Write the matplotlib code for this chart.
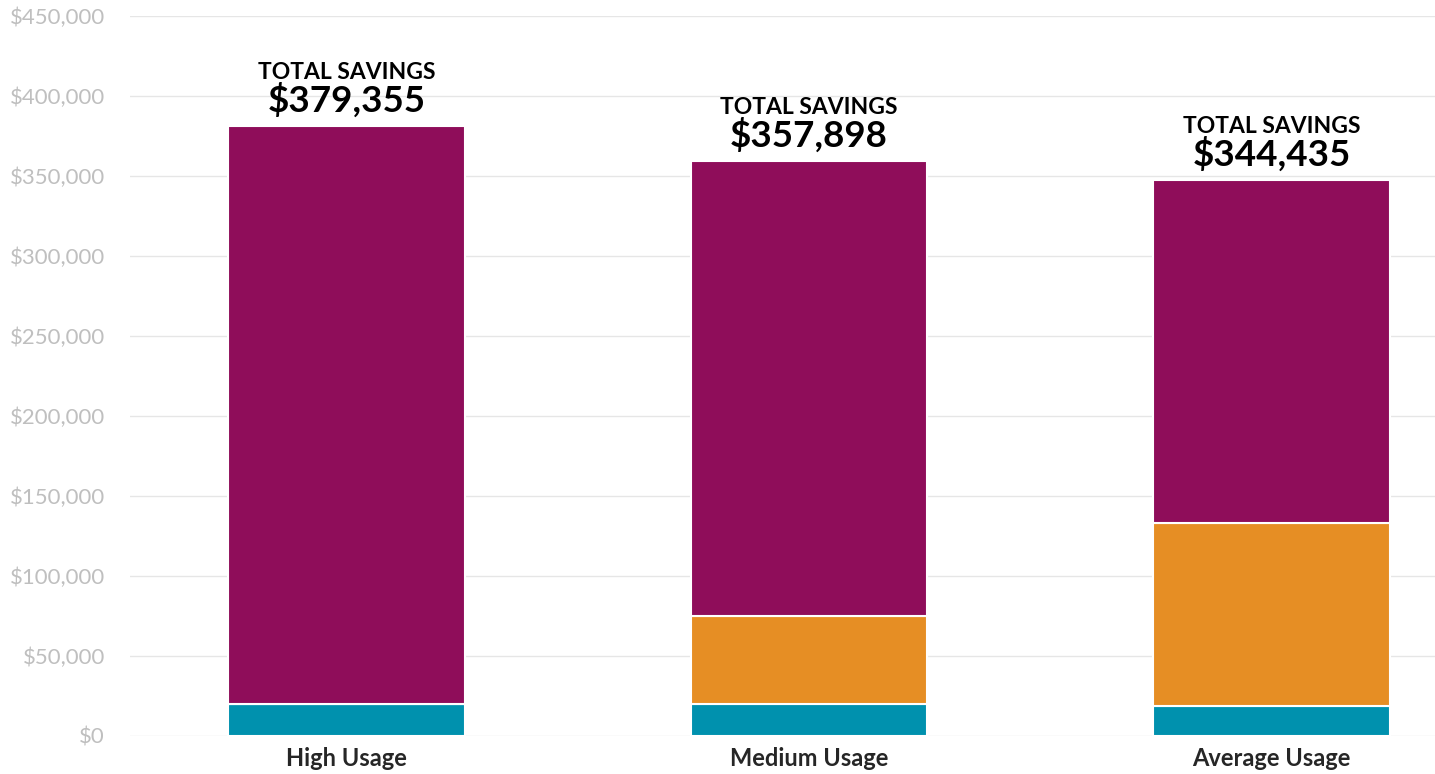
import matplotlib.pyplot as plt
import numpy as np

categories = ["High Usage", "Medium Usage", "Average Usage"]
teal_vals = [20000, 20000, 19000]
orange_vals = [0, 55000, 114000]
purple_vals = [361250, 284400, 214500]
totals = [379355, 357898, 344435]
yticks = np.arange(0, 450001, 50000)

plt.rcParams['font.family'] = ['Lato', 'DejaVu Sans']

fig = plt.figure(figsize=(14.35, 7.74), dpi=100)
ax = fig.add_axes([0.0906, 0.0491, 0.9094, 0.9302])

x = np.arange(len(categories))
w = 0.512
ax.bar(x, teal_vals, width=w, color='#0091AE', edgecolor='white', linewidth=1.5, zorder=3)
ax.bar(x, orange_vals, width=w, bottom=teal_vals, color='#E68E24', edgecolor='white',
       linewidth=1.5, zorder=3)
bottom2 = np.array(teal_vals) + np.array(orange_vals)
ax.bar(x, purple_vals, width=w, bottom=bottom2, color='#8F0D5A', edgecolor='white',
       linewidth=1.5, zorder=3)

tops = bottom2 + np.array(purple_vals)
for xi, top, tot in zip(x, tops, totals):
    ax.annotate(f"${tot:,}", (xi, top), xytext=(0, 10.5), textcoords='offset points',
                ha='center', va='baseline', fontsize=26.5, fontweight='bold', color='black')
    ax.annotate("TOTAL SAVINGS", (xi, top), xytext=(0, 33.5), textcoords='offset points',
                ha='center', va='baseline', fontsize=16.5, fontweight='bold', color='black')

ax.set_ylim(0, 450000)
ax.set_xlim(-0.468, 2.3535)
ax.set_yticks(yticks)
ax.set_yticklabels([f"${v:,}" for v in yticks], fontsize=16, color='#BFBFBF')
ax.set_xticks(x)
ax.set_xticklabels(categories, fontsize=17, fontweight='bold', color='#262626')
ax.tick_params(axis='both', length=0)
ax.tick_params(axis='y', pad=18)
ax.tick_params(axis='x', pad=8)
ax.grid(axis='y', color='#E6E6E6', linewidth=1, zorder=0)
for s in ax.spines.values():
    s.set_visible(False)

fig.savefig("out.png", dpi=100)
